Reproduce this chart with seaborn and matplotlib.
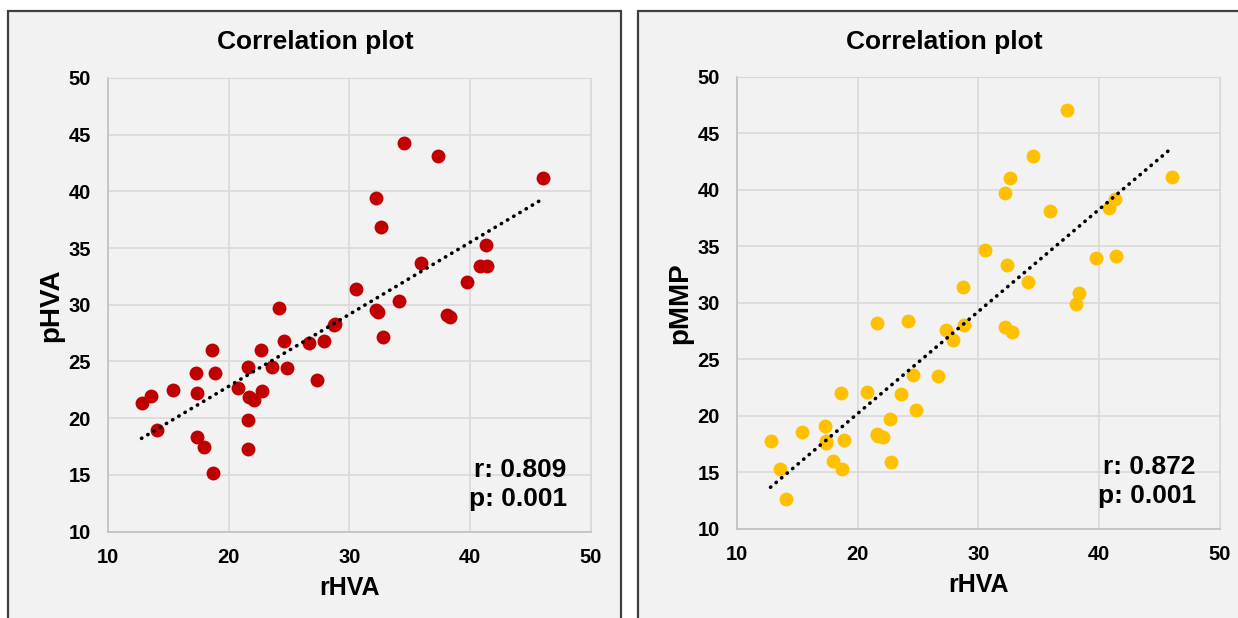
import numpy as np
import pandas as pd
import matplotlib
matplotlib.use('Agg')
import matplotlib.pyplot as plt
from matplotlib.patches import Rectangle
import seaborn as sns

# Data
rhva = [12.8, 13.6, 14.05, 15.4, 17.3, 17.4, 17.4, 18.0, 18.6, 18.7, 18.9,
        20.8, 21.6, 21.6, 21.6, 21.7, 22.1, 22.7, 22.75, 23.6, 24.2, 24.6,
        24.85, 26.7, 27.3, 27.9, 28.7, 28.8, 30.55, 32.2, 32.2, 32.4, 32.6,
        32.8, 34.1, 34.5, 35.9, 37.35, 38.06, 38.3, 39.75, 40.8, 41.3, 41.4, 46.05]
phva = [21.3, 22.0, 19.0, 22.5, 24.0, 22.2, 18.3, 17.5, 26.0, 15.15, 24.0,
        22.7, 24.5, 19.85, 17.3, 21.9, 21.6, 26.0, 22.4, 24.55, 29.75, 26.85,
        24.45, 26.6, 23.4, 26.85, 28.2, 28.3, 31.4, 39.4, 29.5, 29.35, 36.9,
        27.15, 30.3, 44.3, 33.7, 43.1, 29.1, 28.9, 32.0, 33.45, 35.3, 33.4, 41.2]
pmmp = [17.75, 15.3, 12.6, 18.6, 19.1, 17.8, 17.6, 16.0, 22.05, 15.3, 17.85,
        22.1, 28.2, 18.3, 18.4, 18.2, 18.1, 19.75, 15.9, 21.9, 28.35, 23.6,
        20.5, 23.5, 27.55, 26.7, 31.35, 28.05, 34.7, 39.7, 27.85, 33.3, 41.0,
        27.4, 31.8, 42.95, 38.15, 47.05, 29.9, 30.9, 34.0, 38.4, 39.15, 34.1, 41.15]

panels = [
    {'y': phva, 'ylabel': 'pHVA', 'color': '#c00000', 'stats': 'r: 0.809\np: 0.001'},
    {'y': pmmp, 'ylabel': 'pMMP', 'color': '#ffc000', 'stats': 'r: 0.872\np: 0.001'},
]
ticks = [10, 20, 30, 40, 50]
yticks = [10, 15, 20, 25, 30, 35, 40, 45, 50]

sns.set_style('white')
plt.rcParams['font.family'] = ['Liberation Sans', 'DejaVu Sans']
plt.rcParams['font.weight'] = 'bold'
plt.rcParams['text.color'] = 'black'
plt.rcParams['axes.labelcolor'] = 'black'
plt.rcParams['xtick.color'] = 'black'
plt.rcParams['ytick.color'] = 'black'

bg = '#f2f2f2'
W, H = 1238, 618
fig = plt.figure(figsize=(W / 100, H / 100), dpi=100)
fig.patch.set_facecolor('white')

# panel boxes in pixels, axes areas in pixels (left, right, top, bottom)
boxes = [(8, 621), (638, 1250)]
title_x = [315, 944]
axes_px = [(107.7, 591.0, 78.0, 531.6), (736.7, 1220.0, 76.7, 528.7)]

for (bx0, bx1), tx, (ax0, ax1, ay0, ay1), p in zip(boxes, title_x, axes_px, panels):
    fig.patches.append(Rectangle((bx0 / W, -0.05), (bx1 - bx0) / W, 1 - 11 / H + 0.05,
                                 transform=fig.transFigure, facecolor=bg,
                                 edgecolor='#404040', linewidth=1.6, zorder=-10))
    ax = fig.add_axes([ax0 / W, 1 - ay1 / H, (ax1 - ax0) / W, (ay1 - ay0) / H])
    ax.set_facecolor(bg)
    df = pd.DataFrame({'rHVA': rhva, p['ylabel']: p['y']})
    sns.regplot(data=df, x='rHVA', y=p['ylabel'], ax=ax, ci=None,
                scatter_kws={'s': 100, 'color': p['color'], 'alpha': 1,
                             'linewidths': 0, 'zorder': 3},
                line_kws={'color': 'black', 'lw': 2.6, 'zorder': 4,
                          'linestyle': (0, (0.1, 1.9)), 'dash_capstyle': 'round'})
    ax.set_xlim(10, 50)
    ax.set_ylim(10, 50)
    ax.set_xticks(ticks)
    ax.set_yticks(yticks)
    ax.grid(True, color='#d9d9d9', linewidth=1.2)
    ax.set_axisbelow(True)
    for s in ['top', 'right']:
        ax.spines[s].set_color('#d9d9d9')
    for s in ['left', 'bottom']:
        ax.spines[s].set_color('#bfbfbf')
        ax.spines[s].set_linewidth(1.2)
    ax.tick_params(length=0, pad=12, labelsize=14.5)
    for lab in ax.get_xticklabels() + ax.get_yticklabels():
        lab.set_fontweight('bold')
    ax.set_xlabel('rHVA', fontsize=18, fontweight='bold', labelpad=6)
    ax.set_ylabel(p['ylabel'], fontsize=20, fontweight='bold', labelpad=3)
    ax.text(0.95, 0.162, p['stats'], transform=ax.transAxes, ha='right', va='top',
            fontsize=19, fontweight='bold', linespacing=1.25)
    fig.text(tx / W, 1 - 42 / H, 'Correlation plot', ha='center', va='center',
             fontsize=19, fontweight='bold')

plt.savefig('out.png', dpi=100, facecolor=fig.get_facecolor())
